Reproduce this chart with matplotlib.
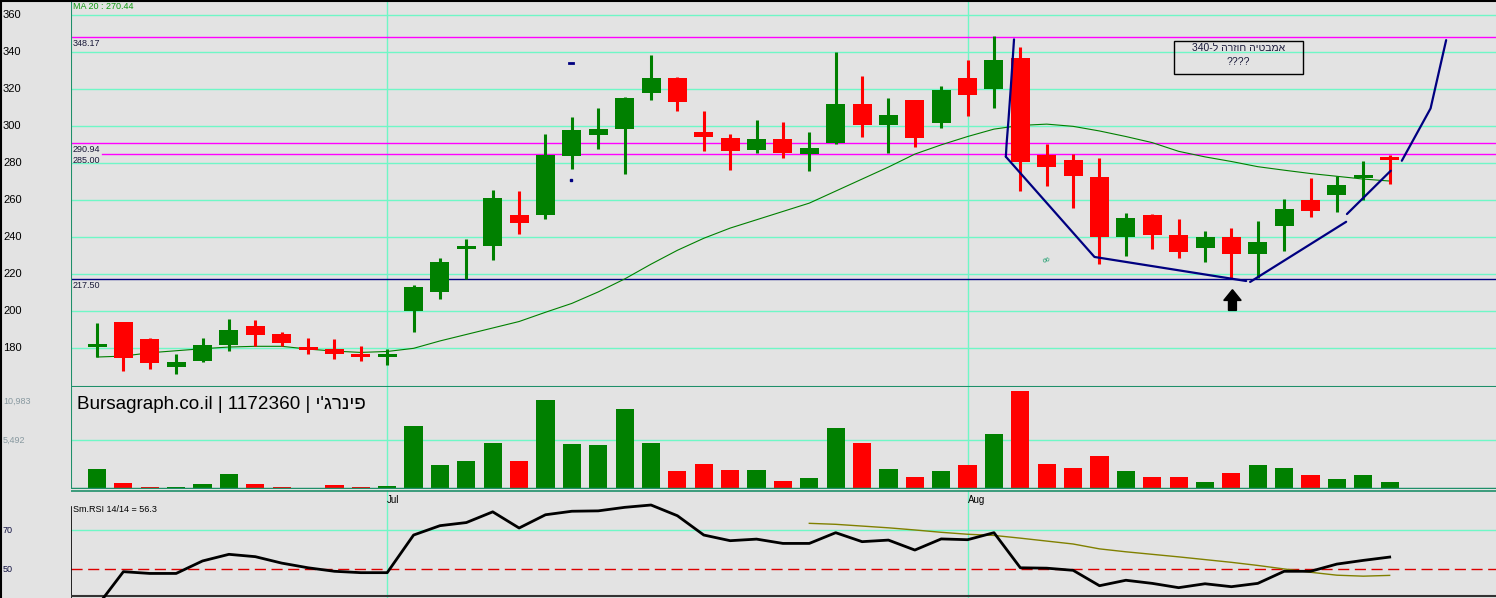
import numpy as np
import matplotlib
matplotlib.use("Agg")
import matplotlib.pyplot as plt
from matplotlib.patches import Rectangle, FancyArrow
from matplotlib.transforms import blended_transform_factory

plt.rcParams['font.family'] = ['Liberation Sans', 'DejaVu Sans']

# daily candles, June - August
opens = [181, 194, 185, 170, 173, 182, 192, 188, 180.5, 179.5,
         177, 175.5, 200, 210.5, 234, 235.5, 252, 252, 284, 295.5,
         298.5, 318, 326, 297, 293.5, 287, 293, 285, 291, 312,
         300.5, 314, 302, 326, 320, 337, 284.5, 282, 272.5, 240,
         252, 241, 234.5, 240, 231, 246, 260, 263, 272, 283]
highs = [193.5, 194.5, 185.5, 177, 185.5, 196, 195.5, 189, 185.5, 185,
         181, 179.5, 214, 229, 239, 265.5, 265, 296, 305, 310,
         316, 338.5, 326.5, 308.5, 296, 303.5, 302.5, 297, 340, 327,
         315.5, 314.5, 322, 336, 349, 343, 290.5, 285, 283, 253,
         252.5, 250, 243.5, 245, 249, 260.5, 272, 273, 281.5, 284.5]
lows = [175.5, 168, 169, 166, 172.8, 178.5, 181, 181, 177, 174,
        173, 171, 189, 206.5, 217.5, 228, 242, 250, 277, 288,
        274, 314.5, 308.5, 286.5, 276.5, 285.5, 283, 276, 290.5, 294.5,
        285.5, 289, 299, 305.5, 310, 265, 267.5, 256, 225.5, 230,
        233.5, 229, 226.5, 218, 218, 232.5, 251, 253.5, 260, 269]
closes = [182, 175, 172, 172.5, 182, 190, 187, 183, 179.5, 177,
          175.5, 176.5, 213, 226.5, 235, 261, 247.5, 284.5, 298, 298.5,
          315.5, 326, 313, 294, 286.5, 293, 285.5, 288.5, 312, 300.5,
          306, 293.5, 319.5, 317, 336, 280.5, 278, 273, 240, 250.5,
          241, 232, 240, 231, 237.5, 255.5, 254.5, 268.5, 273.5, 282]
volumes = [2255, 677, 225, 225, 564, 1692, 564, 225, 113, 451,
           225, 338, 7105, 2706, 3158, 5188, 3158, 9926, 5076, 4963,
           8911, 5188, 2030, 2820, 2143, 2143, 902, 1241, 6881, 5188,
           2256, 1354, 2030, 2707, 6204, 10983, 2820, 2369, 3722, 2030,
           1354, 1354, 790, 1805, 2707, 2369, 1579, 1128, 1579, 790]
ma20 = [175.3, 175.8, 177.6, 178.7, 179.8, 180.7, 181.1, 181.1, 179.6, 178.5,
        177.8, 178.3, 180, 184, 187.5, 191, 194.5, 199.5, 204.3, 210.5,
        217.5, 225.5, 233, 239.5, 245, 249.5, 254, 258.5, 265, 271.5,
        278, 285, 290, 294.5, 298.5, 300.5, 301.2, 300, 297.5, 294.5,
        291.2, 286.5, 283.5, 281, 278.2, 276.3, 274.5, 273, 271.5, 270.44]
rsi = [31, 48.8, 47.9, 47.9, 54.3, 57.7, 56.5, 53.2, 50.8, 49,
       48.3, 48.3, 67.6, 72.4, 74, 79.5, 71.2, 78, 79.8, 80,
       81.8, 83, 77.5, 67.6, 64.7, 65.5, 63.3, 63.3, 68.8, 64.2,
       65, 59.9, 65.6, 65.2, 68.8, 50.8, 50.6, 49.5, 41.6, 44.4,
       42.8, 40.6, 42.6, 41.1, 42.8, 49, 49, 52.7, 54.6, 56.3]
rsi_signal_start = 27
rsi_signal = [73.6, 73.1, 72.2, 71.3, 70.2, 69, 68, 67.4, 66, 64.5,
              63, 60.5, 59, 57.7, 56.4, 55, 53.6, 52, 50.2, 48.5,
              47, 46.5, 46.9]

price_ticks = [180, 200, 220, 240, 260, 280, 300, 320, 340, 360]
levels = [348.17, 290.94, 285.00, 217.50]
month_labels = ["Jul", "Aug"]
month_pos = [11, 33]

# hand drawn "bathtub" annotation, (candle index, price)
tub_lines = [
    ([34.76, 34.64, 34.55, 34.48, 34.45], [347.0, 321.4, 303.4, 290.8, 283.6]),
    ([34.45, 37.81, 43.56], [283.6, 229.4, 216.4]),
    ([43.71, 47.35], [215.9, 248.4]),
    ([47.38, 49.04], [252.6, 276.0]),
    ([49.46, 50.55, 51.14], [281.4, 309.7, 346.6]),
]

BG = "#e3e3e3"
GRID = "#6ff7c6"
GREEN = "#008000"
RED = "#ff0000"
NAVY = "#000080"
MAGENTA = "#ff00ff"
EDGE = "#1f8f6a"

opens = np.array(opens)
closes = np.array(closes)
highs = np.array(highs)
lows = np.array(lows)
x = np.arange(len(opens))
up = closes >= opens
vol_up = np.concatenate([[True], closes[1:] >= closes[:-1]])

W, H = 1496, 598
fig = plt.figure(figsize=(W / 100, H / 100), dpi=100, facecolor=BG)

def px_axes(top, bottom):
    return fig.add_axes([71 / W, (H - bottom) / H, (W - 71) / W, (bottom - top) / H])

ax = px_axes(0, 387)
ax_v = px_axes(387, 489)
ax_r = px_axes(490, 598)

xlim = (-0.986, 53.03)
for a in (ax, ax_v, ax_r):
    a.set_facecolor(BG)
    a.set_xlim(*xlim)
    a.set_xticks([])
    a.set_yticks([])
    for s in a.spines.values():
        s.set_visible(False)
    for m in month_pos:
        a.axvline(m, color=GRID, lw=1, zorder=1)

# ---- price panel
ax.set_ylim(159.1, 368.3)
for t in price_ticks:
    ax.axhline(t, color=GRID, lw=1, zorder=1)
ax.axhline(levels[0], color=MAGENTA, lw=1, zorder=2)
ax.axhline(levels[1], color=MAGENTA, lw=1, zorder=2)
ax.axhline(levels[2], xmin=0.0215, color=MAGENTA, lw=1, zorder=2)
ax.axhline(levels[3], color=NAVY, lw=1, zorder=2)
for lv in levels:
    ax.annotate(f"{lv:.2f}", (0, lv), xycoords=("axes fraction", "data"),
                xytext=(2, -2), textcoords="offset pixels", va="top",
                fontsize=6.5, color="#1a1a3a")

ax.plot(x, ma20, color=GREEN, lw=0.8, zorder=3)

colors = np.where(up, GREEN, RED)
ax.vlines(x, lows, highs, colors=colors, lw=2.2, zorder=4)
body_h = np.abs(closes - opens)
mid = (closes + opens) / 2
body_bottom = np.where(body_h < 1.8, mid - 0.9, np.minimum(opens, closes))
body_h = np.maximum(body_h, 1.8)
ax.bar(x, body_h, bottom=body_bottom, width=0.72, color=colors, zorder=5)

for xs, ys in tub_lines:
    ax.plot(xs, ys, color=NAVY, lw=1.6, zorder=6, solid_capstyle="round")
ax.plot([17.9, 18.05], [334.2, 334.2], color=NAVY, lw=2, zorder=6)
ax.plot([17.95], [271], marker="s", ms=1.5, color=NAVY, zorder=6)
ax.text(36.0, 227.7, "oo", fontsize=5, color="#119966", ha="center", va="center", rotation=20)

ax.add_patch(FancyArrow(43.04, 200.5, 0, 11.2, width=0.3, head_width=0.66,
                        head_length=5.8, length_includes_head=True,
                        color="black", zorder=7))

ax.add_patch(Rectangle((40.83, 328.3), 4.89, 18.0, fill=False, ec="black", lw=1, zorder=7))
ax.text(43.27, 342.3, "340-ל הרזוח היטבמא", ha="center", va="center", fontsize=7.5, color="#1a1a3a", zorder=8)
ax.text(43.27, 334.7, "????", ha="center", va="center", fontsize=7.5, color="#1a1a3a", zorder=8)

ax.text(0.0016, 0.982, "MA 20 : 270.44", transform=ax.transAxes, fontsize=6.5,
        color="#119911", va="center")

lab = blended_transform_factory(fig.transFigure, ax.transData)
for t in price_ticks:
    ax.text(3 / W, t, str(t), transform=lab, fontsize=8, va="center", color="black")

ax.axvline(xlim[0], color=EDGE, lw=1.5)
ax.axhline(ax.get_ylim()[0], color=EDGE, lw=1.5)

# ---- volume panel
ax_v.set_ylim(0, 11431)
ax_v.axhline(5492, color=GRID, lw=1, zorder=1)
ax_v.bar(x, volumes, width=0.69, color=np.where(vol_up, GREEN, RED), zorder=3)
ax_v.axhline(0, color=EDGE, lw=2.5, zorder=4)
ax_v.axvline(xlim[0], color=EDGE, lw=1.5)
ax_v.text(6 / 1425, 0.825, "Bursagraph.co.il | 1172360 | י'גרניפ", transform=ax_v.transAxes,
          fontsize=13.6, va="center", color="black")
vlab = blended_transform_factory(fig.transFigure, ax_v.transAxes)
ax_v.text(3 / W, (489 - 401) / 102, "10,983", transform=vlab, fontsize=6.5, va="center", color="#8899a0")
ax_v.text(3 / W, (489 - 440) / 102, "5,492", transform=vlab, fontsize=6.5, va="center", color="#8899a0")

# ---- RSI panel
ax_r.set_ylim(35.3, 90.7)
ax_r.axhline(90.4, color=EDGE, lw=1.2, zorder=2)
ax_r.axhline(70, color=GRID, lw=1, zorder=1)
ax_r.axhline(50, color="#dd0000", lw=1, ls=(0, (8, 4)), zorder=2)
sig_x = np.arange(rsi_signal_start, rsi_signal_start + len(rsi_signal))
ax_r.plot(sig_x, rsi_signal, color="#808000", lw=1, zorder=3)
ax_r.plot(x, rsi, color="black", lw=2, zorder=4)
ax_r.plot([xlim[0], xlim[0]], [35.3, 82], color="black", lw=1.2)
ax_r.axhline(36.3, color="#333333", lw=1.5)
for m, name in zip(month_pos, month_labels):
    ax_r.text(m, 0.905, name, transform=blended_transform_factory(ax_r.transData, ax_r.transAxes),
              fontsize=7, va="center", color="black")
ax_r.text(0.0016, 0.824, "Sm.RSI 14/14 = 56.3", transform=ax_r.transAxes, fontsize=6.5,
          va="center", color="black")
rlab = blended_transform_factory(fig.transFigure, ax_r.transData)
for t in (70, 50):
    ax_r.text(3 / W, t, str(t), transform=rlab, fontsize=6.5, va="center", color="#101040")

# outer frame (top and left)
fig.add_artist(plt.Line2D([0, 1], [1 - 0.5 / H, 1 - 0.5 / H], color="black", lw=1.5))
fig.add_artist(plt.Line2D([0.5 / W, 0.5 / W], [0, 1], color="black", lw=1.5))

fig.savefig("out.png", dpi=100, facecolor=BG)
